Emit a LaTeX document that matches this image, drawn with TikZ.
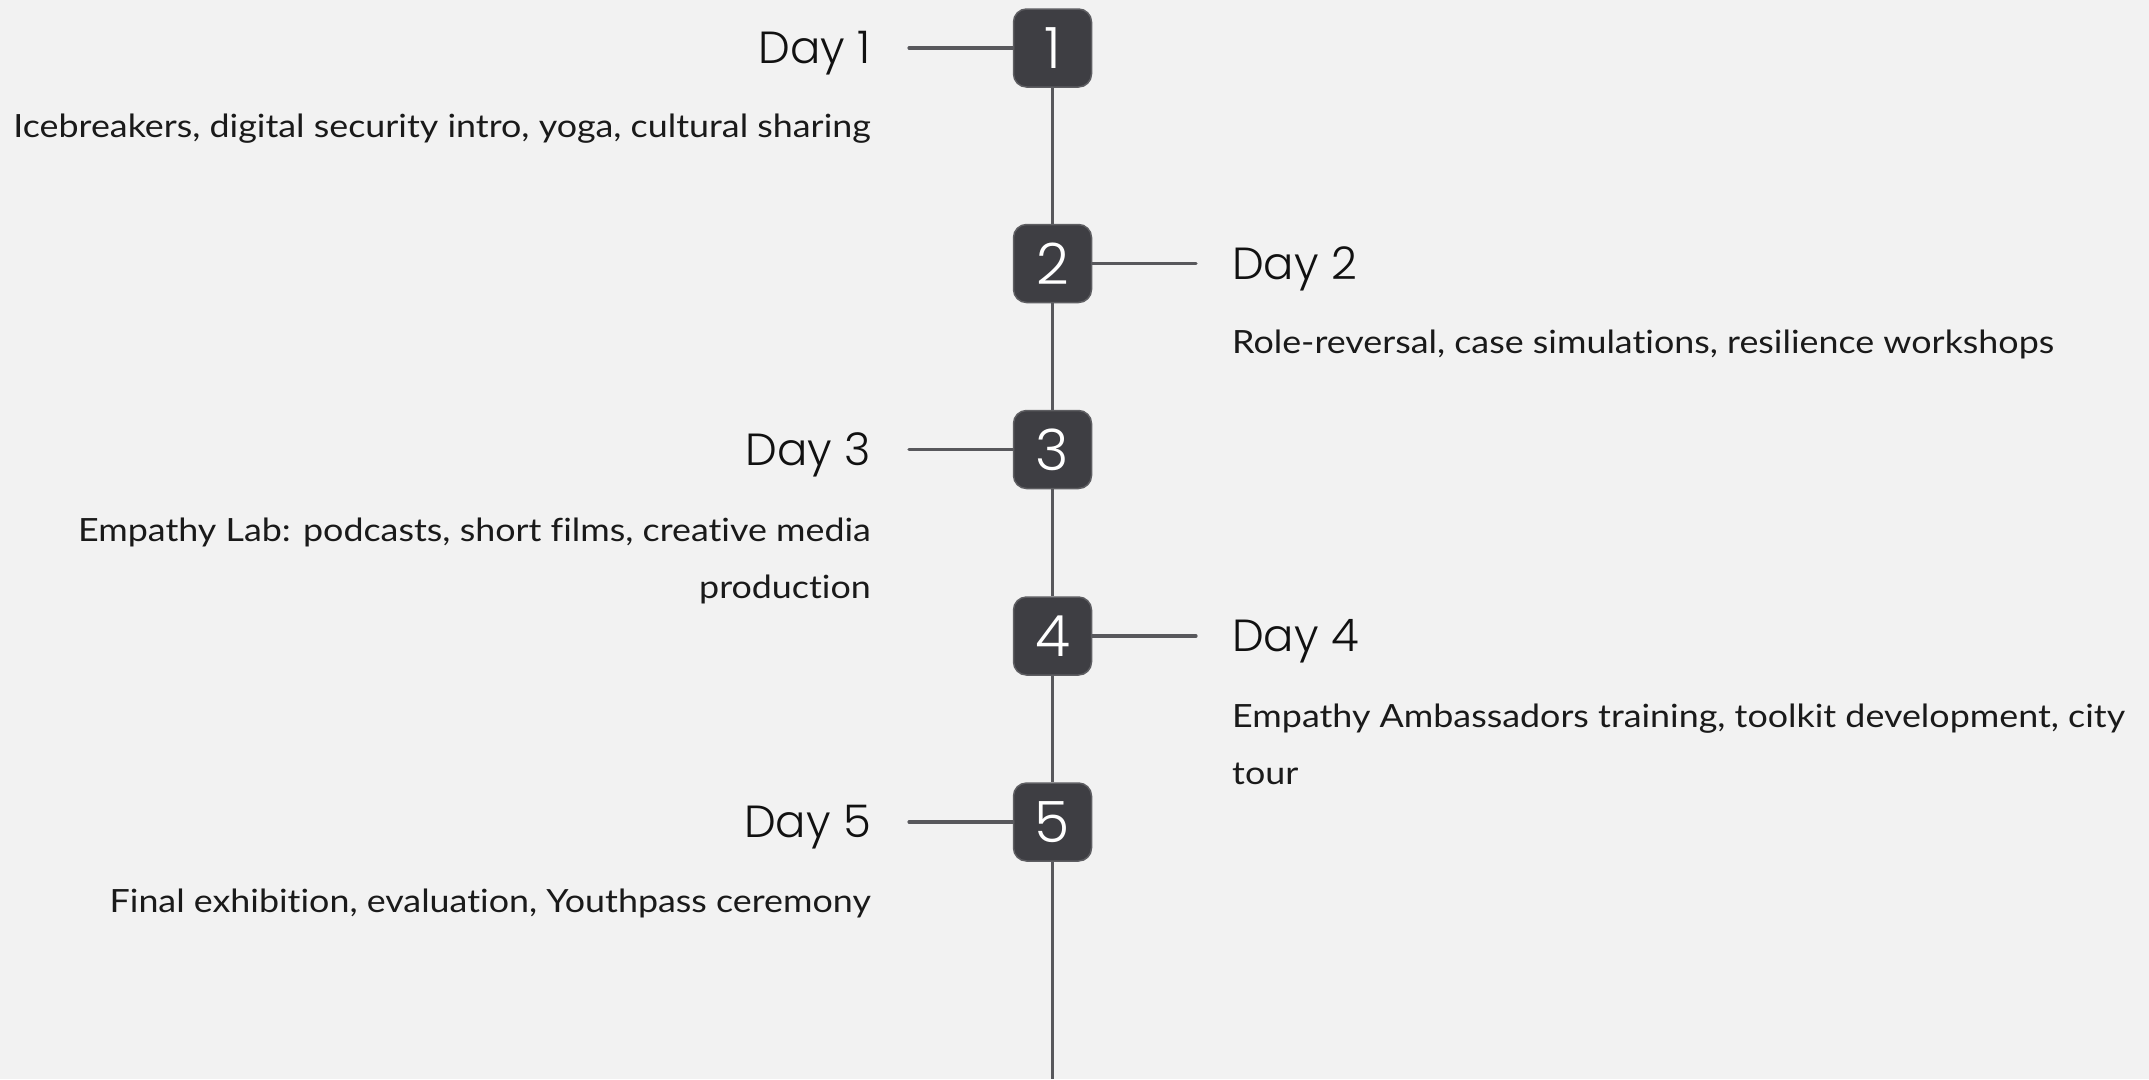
\documentclass[tikz,border=0pt]{standalone}
\usepackage{fontspec}
\setmainfont{Lato}[FakeStretch=1.12,Ligatures={NoCommon,NoDiscretionary}]
\newfontfamily\popfont{Poppins Light}
\definecolor{bgcol}{HTML}{F2F2F2}
\definecolor{boxfill}{HTML}{3E3E43}
\definecolor{boxedge}{HTML}{5E5E62}
\definecolor{linecol}{HTML}{58585C}
\definecolor{titlecol}{HTML}{111111}
\definecolor{desccol}{HTML}{1A1A1A}
\begin{document}
\begin{tikzpicture}[x=1pt,y=-1pt,
  numbox/.style={rounded corners=13pt, fill=boxfill, draw=boxedge, line width=1.5pt,
    minimum width=78pt, minimum height=78pt, inner sep=0pt, text=white,
    font=\popfont\fontsize{57}{60}\selectfont},
  daytitle/.style={inner sep=0pt, text=titlecol, font=\popfont\fontsize{45}{54}\selectfont},
  desc/.style={inner sep=0pt, text=desccol, font=\fontsize{32}{57}\selectfont},
  conn/.style={draw=linecol, line width=3.2pt, line cap=round},
  spine/.style={draw=linecol, line width=3.2pt}]
\fill[bgcol] (0,0) rectangle (2149,1079);
\useasboundingbox (0,0) rectangle (2149,1079);
\coordinate (end) at (1052.5,1079);
\coordinate (l1) at (909,48);
\coordinate (r2) at (1196,263.5);
\coordinate (l3) at (909,449.5);
\coordinate (r4) at (1196,636);
\coordinate (l5) at (909,822);
% boxes
\node[numbox] (b1) at (1052.5,48) {1};
\node[numbox] (b2) at (1052.5,263.5) {2};
\node[numbox] (b3) at (1052.5,449.5) {3};
\node[numbox] (b4) at (1052.5,636) {4};
\node[numbox] (b5) at (1052.5,822) {5};
\draw[spine] (b1.south) -- (b2.north);
\draw[spine] (b2.south) -- (b3.north);
\draw[spine] (b3.south) -- (b4.north);
\draw[spine] (b4.south) -- (b5.north);
\draw[spine] (b5.south) -- (end);
\draw[conn] (l1) -- (b1.west);
\draw[conn] (b2.east) -- (r2);
\draw[conn] (l3) -- (b3.west);
\draw[conn] (b4.east) -- (r4);
\draw[conn] (l5) -- (b5.west);
% titles
\node[daytitle, anchor=base east] (t1) at (871,63.5) {Day 1};
\node[daytitle, anchor=base west] (t2) at (1232,279) {Day 2};
\node[daytitle, anchor=base east] (t3) at (871,465) {Day 3};
\node[daytitle, anchor=base west] (t4) at (1232,651.5) {Day 4};
\node[daytitle, anchor=base east] (t5) at (871,837.5) {Day 5};
% descriptions
\node[desc, anchor=base east] (d1) at (871,137) {Icebreakers, digital security intro, yoga, cultural sharing};
\node[desc, anchor=base west] (d2) at (1232,353) {Role-reversal, case simulations, resilience workshops};
\node[desc, anchor=base east, align=right] (d3) at (871,598) {Empathy Lab: podcasts, short films, creative media\\production};
\node[desc, anchor=base west, align=left] (d4) at (1232,784) {Empathy Ambassadors training, toolkit development, city\\tour};
\node[desc, anchor=base east] (d5) at (871,912) {Final exhibition, evaluation, Youthpass ceremony};
\end{tikzpicture}
\end{document}
